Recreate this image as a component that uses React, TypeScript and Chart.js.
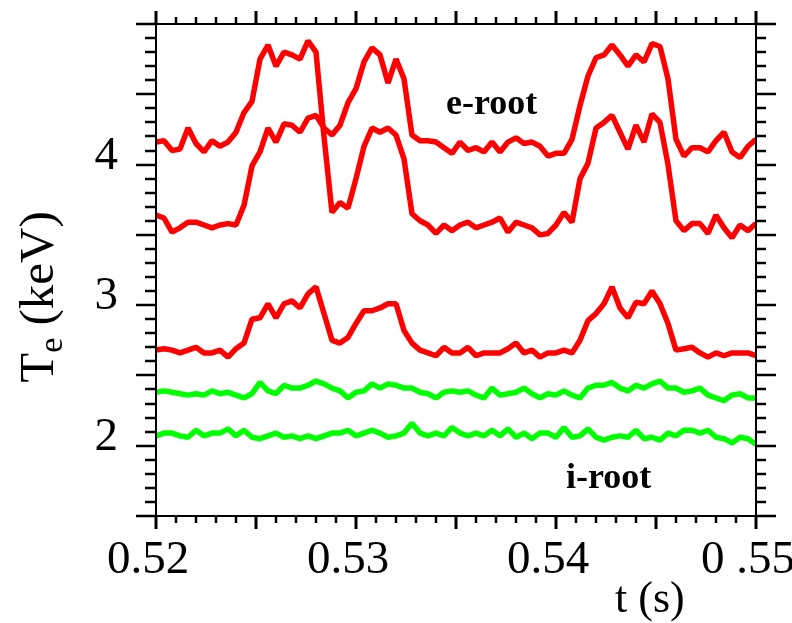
import React, { useEffect, useRef } from "react";
import { Chart, registerables } from "chart.js";

Chart.register(...registerables);

// ---------- data ----------
const times = [
  0.5200, 0.5204, 0.5208, 0.5212, 0.5216, 0.5220, 0.5224, 0.5228, 0.5232, 0.5236,
  0.5240, 0.5244, 0.5248, 0.5252, 0.5256, 0.5260, 0.5264, 0.5268, 0.5272, 0.5276,
  0.5280, 0.5284, 0.5288, 0.5292, 0.5296, 0.5300, 0.5304, 0.5308, 0.5312, 0.5316,
  0.5320, 0.5324, 0.5328, 0.5332, 0.5336, 0.5340, 0.5344, 0.5348, 0.5352, 0.5356,
  0.5360, 0.5364, 0.5368, 0.5372, 0.5376, 0.5380, 0.5384, 0.5388, 0.5392, 0.5396,
  0.5400, 0.5404, 0.5408, 0.5412, 0.5416, 0.5420, 0.5424, 0.5428, 0.5432, 0.5436,
  0.5440, 0.5444, 0.5448, 0.5452, 0.5456, 0.5460, 0.5464, 0.5468, 0.5472, 0.5476,
  0.5480, 0.5484, 0.5488, 0.5492, 0.5496, 0.5500,
];

// electron-root traces (red)
const eRootA = [
  4.16, 4.17, 4.10, 4.11, 4.26, 4.15, 4.09, 4.17, 4.13, 4.16,
  4.23, 4.37, 4.45, 4.75, 4.85, 4.70, 4.80, 4.78, 4.75, 4.88,
  4.80, 4.20, 3.66, 3.73, 3.69, 3.90, 4.13, 4.26, 4.23, 4.26,
  4.21, 4.04, 3.65, 3.60, 3.57, 3.51, 3.57, 3.53, 3.57, 3.59,
  3.55, 3.57, 3.59, 3.62, 3.52, 3.59, 3.57, 3.55, 3.50, 3.51,
  3.57, 3.66, 3.59, 3.90, 4.01, 4.26, 4.30, 4.35, 4.23, 4.11,
  4.28, 4.16, 4.36, 4.30, 4.00, 3.60, 3.53, 3.58, 3.58, 3.51,
  3.64, 3.55, 3.48, 3.57, 3.53, 3.58,
];
const eRootB = [
  3.64, 3.62, 3.52, 3.55, 3.59, 3.59, 3.57, 3.55, 3.57, 3.58,
  3.57, 3.71, 3.99, 4.09, 4.26, 4.16, 4.29, 4.28, 4.23, 4.33,
  4.35, 4.26, 4.21, 4.28, 4.44, 4.54, 4.73, 4.83, 4.78, 4.58,
  4.75, 4.61, 4.21, 4.17, 4.17, 4.16, 4.12, 4.08, 4.16, 4.10,
  4.12, 4.09, 4.16, 4.09, 4.16, 4.19, 4.15, 4.16, 4.13, 4.06,
  4.08, 4.08, 4.18, 4.42, 4.63, 4.76, 4.78, 4.85, 4.78, 4.70,
  4.78, 4.73, 4.86, 4.84, 4.61, 4.18, 4.06, 4.12, 4.12, 4.09,
  4.17, 4.23, 4.09, 4.05, 4.13, 4.18,
];
const eRootC = [
  2.68, 2.69, 2.68, 2.66, 2.68, 2.70, 2.66, 2.66, 2.68, 2.63,
  2.69, 2.73, 2.90, 2.91, 3.01, 2.91, 3.01, 3.03, 2.98, 3.08,
  3.13, 2.94, 2.75, 2.73, 2.77, 2.87, 2.96, 2.96, 2.98, 3.01,
  3.01, 2.82, 2.73, 2.68, 2.66, 2.64, 2.70, 2.66, 2.66, 2.70,
  2.64, 2.66, 2.66, 2.66, 2.69, 2.73, 2.66, 2.68, 2.63, 2.66,
  2.66, 2.68, 2.66, 2.75, 2.89, 2.94, 3.01, 3.13, 2.98, 2.91,
  3.02, 3.01, 3.10, 3.01, 2.87, 2.68, 2.69, 2.70, 2.66, 2.63,
  2.66, 2.64, 2.66, 2.66, 2.66, 2.64,
];
// ion-root traces (green)
const iRootA = [
  2.38, 2.39, 2.38, 2.37, 2.36, 2.37, 2.36, 2.39, 2.37, 2.38,
  2.36, 2.34, 2.37, 2.45, 2.39, 2.37, 2.43, 2.41, 2.41, 2.43,
  2.46, 2.44, 2.41, 2.39, 2.34, 2.38, 2.39, 2.44, 2.41, 2.44,
  2.43, 2.41, 2.41, 2.38, 2.37, 2.34, 2.38, 2.39, 2.38, 2.39,
  2.36, 2.34, 2.41, 2.36, 2.37, 2.38, 2.41, 2.37, 2.34, 2.37,
  2.36, 2.39, 2.36, 2.34, 2.41, 2.43, 2.43, 2.45, 2.41, 2.39,
  2.43, 2.41, 2.44, 2.46, 2.41, 2.41, 2.38, 2.39, 2.41, 2.36,
  2.34, 2.32, 2.36, 2.37, 2.34, 2.34,
];
const iRootB = [
  2.07, 2.09, 2.09, 2.07, 2.06, 2.11, 2.07, 2.09, 2.09, 2.12,
  2.07, 2.11, 2.06, 2.05, 2.07, 2.09, 2.06, 2.07, 2.05, 2.07,
  2.05, 2.07, 2.09, 2.09, 2.11, 2.07, 2.09, 2.11, 2.09, 2.06,
  2.07, 2.09, 2.16, 2.09, 2.07, 2.09, 2.07, 2.13, 2.09, 2.07,
  2.09, 2.07, 2.11, 2.07, 2.12, 2.06, 2.09, 2.05, 2.09, 2.09,
  2.06, 2.13, 2.06, 2.07, 2.12, 2.06, 2.04, 2.06, 2.07, 2.06,
  2.11, 2.05, 2.06, 2.04, 2.09, 2.07, 2.11, 2.11, 2.09, 2.11,
  2.06, 2.05, 2.02, 2.06, 2.05, 2.01,
];

const xTickValues = [0.52, 0.53, 0.54, 0.55];
const xTickLabels = ["0.52", "0.53", "0.54", "0 .55"];
const yTickValues = [2, 3, 4];
const yTickLabels = ["2", "3", "4"];

const annotationTexts = ["e-root", "i-root"];
const annotationX = [0.5345, 0.5405];
const annotationY = [4.36, 1.70];

const X_MIN = 0.52;
const X_MAX = 0.55;
const Y_MIN = 1.5;
const Y_MAX = 5.0;

const SERIF = '"Liberation Serif", "Times New Roman", Times, serif';
const RED = "#ff0000";
const GREEN = "#00ff00";

const framePlugin = {
  id: "frameTicks",
  afterDraw(chart: any) {
    const { ctx, chartArea: a, scales } = chart;
    const x = scales.x;
    const y = scales.y;
    ctx.save();
    ctx.strokeStyle = "#000";
    ctx.lineCap = "butt";
    ctx.lineWidth = 2;
    ctx.strokeRect(a.left, a.top, a.right - a.left, a.bottom - a.top);
    // x ticks (top & bottom), minor every 0.001, major every 0.005
    for (let k = 0; k <= 30; k++) {
      const px = Math.round(x.getPixelForValue(X_MIN + k * 0.001));
      const major = k % 5 === 0;
      const len = major ? 13 : 7;
      ctx.lineWidth = major ? 3 : 2.5;
      ctx.beginPath();
      ctx.moveTo(px, a.bottom);
      ctx.lineTo(px, a.bottom + len);
      ctx.moveTo(px, a.top);
      ctx.lineTo(px, a.top - len);
      ctx.stroke();
    }
    // y ticks (left & right), minor every 0.1, major every 0.5
    for (let k = 0; k <= 35; k++) {
      const py = Math.round(y.getPixelForValue(Y_MIN + k * 0.1));
      const major = k % 5 === 0;
      const lenL = major ? 20 : 11;
      const lenR = major ? 20 : 10;
      ctx.lineWidth = 2.5;
      ctx.beginPath();
      ctx.moveTo(a.left - lenL, py);
      ctx.lineTo(a.left, py);
      ctx.moveTo(a.right, py);
      ctx.lineTo(a.right + lenR, py);
      ctx.stroke();
    }
    ctx.restore();
  },
};

const textPlugin = {
  id: "texts",
  afterDraw(chart: any) {
    const { ctx, scales } = chart;
    const x = scales.x;
    const y = scales.y;
    ctx.save();
    ctx.fillStyle = "#000";
    ctx.textBaseline = "alphabetic";
    ctx.textAlign = "left";
    // annotations
    ctx.font = `bold 36px ${SERIF}`;
    annotationTexts.forEach((t, i) => {
      ctx.fillText(t, x.getPixelForValue(annotationX[i]), y.getPixelForValue(annotationY[i]));
    });
    // x axis title
    ctx.font = `44px ${SERIF}`;
    ctx.fillText("t (s)", 615, 612);
    // y axis title  T_e (keV)
    ctx.translate(53, 297);
    ctx.rotate(-Math.PI / 2);
    const big = `49px ${SERIF}`;
    const small = `34px ${SERIF}`;
    ctx.font = big;
    const wT = ctx.measureText("T").width;
    const wR = ctx.measureText(" (keV)").width;
    ctx.font = small;
    const wE = ctx.measureText("e").width;
    const x0 = -(wT + wE + wR) / 2;
    ctx.font = big;
    ctx.fillText("T", x0, 0);
    ctx.font = small;
    ctx.fillText("e", x0 + wT, 9);
    ctx.font = big;
    ctx.fillText(" (keV)", x0 + wT + wE, 0);
    ctx.restore();
  },
};

function makeSeries(vals: number[]) {
  return times.map((t, i) => ({ x: t, y: vals[i] }));
}

export default function App() {
  const canvasRef = useRef<HTMLCanvasElement | null>(null);

  useEffect(() => {
    if (!canvasRef.current) return;
    const ds = (vals: number[], color: string) => ({
      data: makeSeries(vals),
      borderColor: color,
      backgroundColor: color,
      borderWidth: 5.5,
      pointRadius: 0,
      tension: 0,
      fill: false,
      borderJoinStyle: "bevel" as const,
    });
    const chart = new Chart(canvasRef.current, {
      type: "line",
      data: {
        datasets: [
          ds(iRootB, GREEN),
          ds(iRootA, GREEN),
          ds(eRootC, RED),
          ds(eRootB, RED),
          ds(eRootA, RED),
        ],
      },
      options: {
        responsive: false,
        animation: false,
        devicePixelRatio: 1,
        layout: { padding: { left: 0, right: 36, top: 24, bottom: 0 } },
        plugins: { legend: { display: false }, tooltip: { enabled: false } },
        scales: {
          x: {
            type: "linear",
            min: X_MIN,
            max: X_MAX,
            grid: { display: false, drawTicks: false },
            border: { display: false },
            afterBuildTicks: (s: any) => {
              s.ticks = xTickValues.map((v) => ({ value: v }));
            },
            afterFit: (s: any) => {
              s.height = 107;
              s.paddingLeft = 0;
              s.paddingRight = 0;
            },
            ticks: {
              autoSkip: false,
              maxRotation: 0,
              padding: 16,
              labelOffset: -8,
              color: "#000",
              font: { family: SERIF, size: 47 },
              callback: (v: any) => {
                const i = xTickValues.findIndex((t) => Math.abs(t - Number(v)) < 1e-9);
                return i >= 0 ? xTickLabels[i] : "";
              },
            },
          },
          y: {
            type: "linear",
            min: Y_MIN,
            max: Y_MAX,
            grid: { display: false, drawTicks: false },
            border: { display: false },
            afterBuildTicks: (s: any) => {
              s.ticks = yTickValues.map((v) => ({ value: v }));
            },
            afterFit: (s: any) => {
              s.width = 156;
              s.paddingTop = 0;
              s.paddingBottom = 0;
            },
            ticks: {
              autoSkip: false,
              padding: 38,
              labelOffset: -8,
              color: "#000",
              font: { family: SERIF, size: 47 },
              callback: (v: any) => {
                const i = yTickValues.findIndex((t) => Math.abs(t - Number(v)) < 1e-9);
                return i >= 0 ? yTickLabels[i] : "";
              },
            },
          },
        },
      },
      plugins: [framePlugin, textPlugin],
    });
    return () => chart.destroy();
  }, []);

  return (
    <div
      style={{
        position: "fixed",
        left: 0,
        top: 0,
        width: 792,
        height: 623,
        background: "#fff",
      }}
    >
      <canvas ref={canvasRef} width={792} height={623} style={{ display: "block" }} />
    </div>
  );
}
